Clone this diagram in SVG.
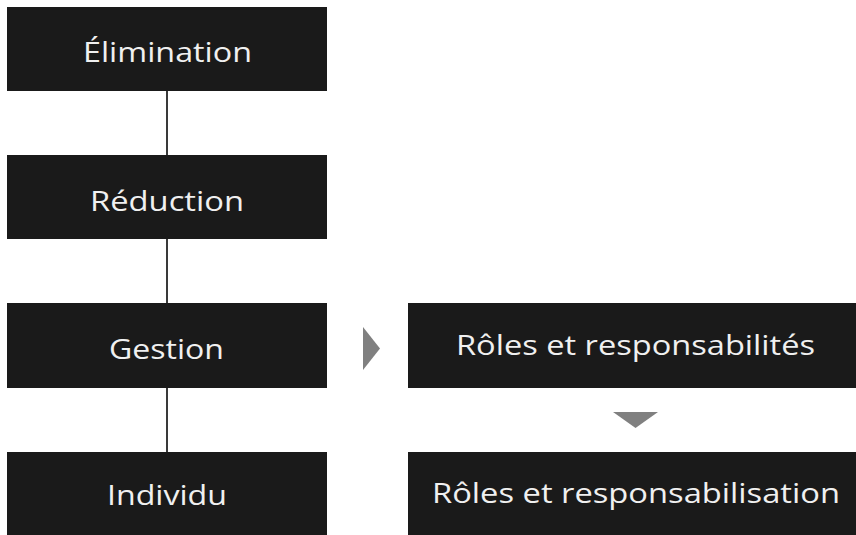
<svg xmlns="http://www.w3.org/2000/svg" width="856" height="535" viewBox="0 0 856 535">
<style>
.box{fill:#1a1a1a;}
.lbl{fill:#f0f0f0;font-family:"Open Sans","Liberation Sans",sans-serif;font-size:27px;font-weight:400;text-anchor:middle;}
.conn{stroke:#3a3a3a;stroke-width:2;fill:none;}
.tri{fill:#808080;}
</style>
<rect width="856" height="535" fill="#ffffff"/>
<g id="connectors">
<line class="conn" x1="167" y1="91" x2="167" y2="155"/>
<line class="conn" x1="167" y1="239" x2="167" y2="303"/>
<line class="conn" x1="167" y1="388" x2="167" y2="452"/>
<polygon class="tri" points="363,327 380,348.5 363,370"/>
<polygon class="tri" points="613,412 658,412 635.5,428"/>
</g>
<g id="elimination">
<rect class="box" x="7" y="7" width="320" height="84"/>
<text class="lbl" x="167.5" y="61.5" textLength="169" lengthAdjust="spacingAndGlyphs">Élimination</text>
</g>
<g id="reduction">
<rect class="box" x="7" y="155" width="320" height="84"/>
<text class="lbl" x="167" y="211" textLength="154" lengthAdjust="spacingAndGlyphs">Réduction</text>
</g>
<g id="gestion">
<rect class="box" x="7" y="303" width="320" height="85"/>
<text class="lbl" x="166.5" y="359" textLength="115" lengthAdjust="spacingAndGlyphs">Gestion</text>
</g>
<g id="individu">
<rect class="box" x="7" y="452" width="320" height="84"/>
<text class="lbl" x="167" y="505" textLength="120" lengthAdjust="spacingAndGlyphs">Individu</text>
</g>
<g id="roles-responsabilites">
<rect class="box" x="408" y="303" width="456" height="85"/>
<text class="lbl" x="635.5" y="355" textLength="359" lengthAdjust="spacingAndGlyphs">Rôles et responsabilités</text>
</g>
<g id="roles-responsabilisation">
<rect class="box" x="408" y="452" width="456" height="84"/>
<text class="lbl" x="636" y="503" textLength="408" lengthAdjust="spacingAndGlyphs">Rôles et responsabilisation</text>
</g>
</svg>
